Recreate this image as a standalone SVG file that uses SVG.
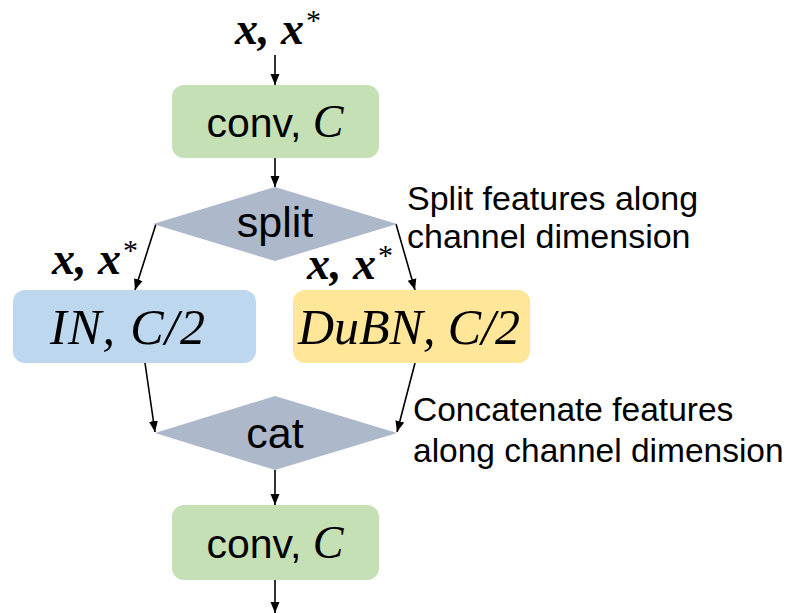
<svg xmlns="http://www.w3.org/2000/svg" width="787" height="613" viewBox="0 0 787 613">
<defs>
<style>
.sans{font-family:"Liberation Sans","Open Sans",sans-serif;fill:#000}
.math{font-family:"Liberation Serif","DejaVu Serif",serif;font-style:italic;fill:#000}
.bx{font-family:"Liberation Serif","DejaVu Serif",serif;font-style:italic;font-weight:bold;fill:#000;font-size:46px}
.ast{font-size:30px;font-weight:normal;font-style:normal}
.edge{stroke:#000;stroke-width:1.6;fill:none;marker-end:url(#ah)}
</style>
<marker id="ah" markerUnits="userSpaceOnUse" markerWidth="12" markerHeight="12" refX="11" refY="5" orient="auto">
<path d="M0,0.5 L11,5 L0,9.5 Z" fill="#000"/>
</marker>
</defs>
<rect width="787" height="613" fill="#fff"/>
<g id="connectors">
<line class="edge" x1="275" y1="55" x2="275" y2="85"/>
<line class="edge" x1="275" y1="158" x2="275" y2="187"/>
<line class="edge" x1="156" y1="224" x2="135" y2="290"/>
<line class="edge" x1="396" y1="224" x2="415" y2="290"/>
<line class="edge" x1="145" y1="363" x2="155" y2="432"/>
<line class="edge" x1="415" y1="363" x2="397" y2="432"/>
<line class="edge" x1="275" y1="470" x2="275" y2="505"/>
<line class="edge" x1="275" y1="580" x2="275" y2="613"/>
</g>
<g id="input-label">
<text class="bx" x="235" y="44">x, x</text>
<text class="bx ast" x="306" y="30">*</text>
</g>
<g id="conv1">
<rect x="172" y="85" width="207" height="73" rx="12" fill="#C5E0B4"/>
<text x="275" y="137" text-anchor="middle"><tspan class="sans" font-size="41">conv, </tspan><tspan class="math" font-size="46">C</tspan></text>
</g>
<g id="split">
<polygon points="153,224 275,187 397,224 275,261" fill="#ADB9CA"/>
<text class="sans" x="275" y="237" font-size="43" text-anchor="middle">split</text>
</g>
<g id="split-note">
<text class="sans" x="407" y="210" font-size="34">Split features along</text>
<text class="sans" x="407" y="248" font-size="34">channel dimension</text>
</g>
<g id="label-left">
<text class="bx" x="52" y="274">x, x</text>
<text class="bx ast" x="123" y="260">*</text>
</g>
<g id="label-right">
<text class="bx" x="307" y="279">x, x</text>
<text class="bx ast" x="378" y="265">*</text>
</g>
<g id="in">
<rect x="13" y="290" width="243" height="73" rx="12" fill="#BDD7EE"/>
<text class="math" x="50" y="344" font-size="50" textLength="155" lengthAdjust="spacing">IN, C/2</text>
</g>
<g id="dubn">
<rect x="293" y="290" width="237" height="73" rx="12" fill="#FFE699"/>
<text class="math" x="298" y="344" font-size="50" textLength="222" lengthAdjust="spacing">DuBN, C/2</text>
</g>
<g id="cat">
<polygon points="155,433 275,396 397,433 275,470" fill="#ADB9CA"/>
<text class="sans" x="275" y="448" font-size="43" text-anchor="middle">cat</text>
</g>
<g id="cat-note">
<text class="sans" x="413" y="421" font-size="33.5">Concatenate features</text>
<text class="sans" x="413" y="462" font-size="33.5">along channel dimension</text>
</g>
<g id="conv2">
<rect x="172" y="505" width="207" height="75" rx="12" fill="#C5E0B4"/>
<text x="275" y="558" text-anchor="middle"><tspan class="sans" font-size="41">conv, </tspan><tspan class="math" font-size="46">C</tspan></text>
</g>
</svg>
